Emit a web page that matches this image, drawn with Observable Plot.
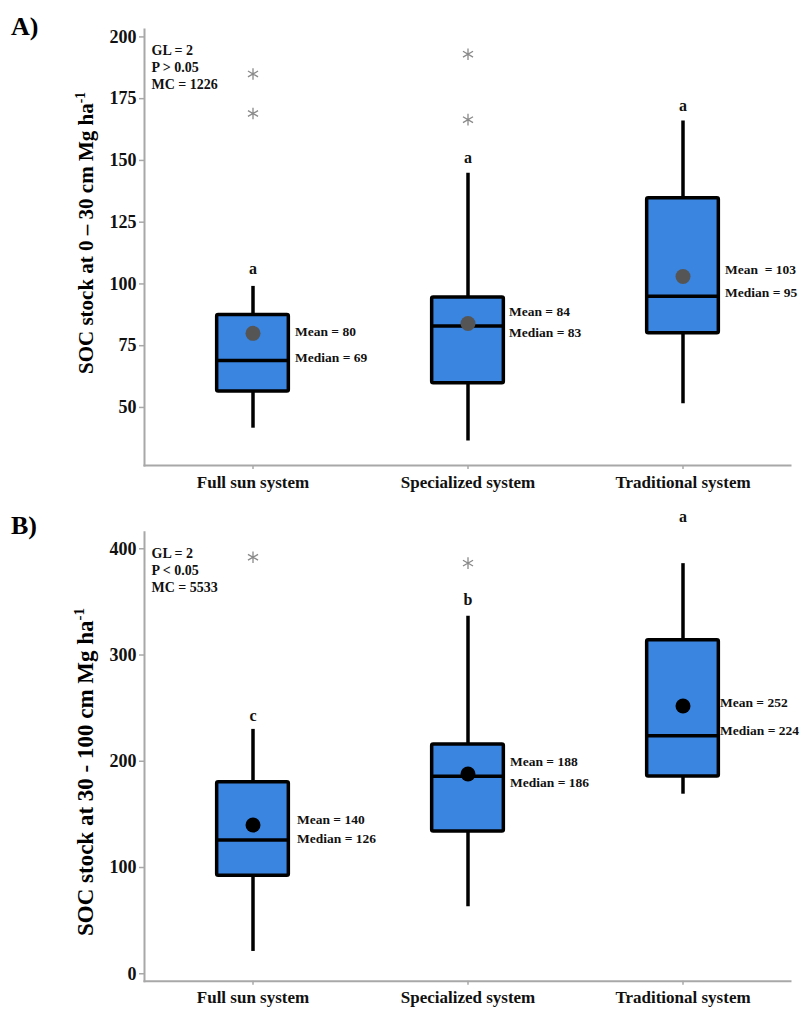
<!DOCTYPE html>
<html>
<head>
<meta charset="utf-8">
<script src="https://cdn.jsdelivr.net/npm/d3@7"></script>
<script src="https://cdn.jsdelivr.net/npm/@observablehq/plot@0.6"></script>
<style>
  html, body { margin: 0; padding: 0; background: #fff; }
  #chart svg { display: block; }
</style>
</head>
<body>
<div id="chart"></div>
<script>
// ---------- data ----------
const categories = ["Full sun system", "Specialized system", "Traditional system"];

// Panel A: SOC stock 0 – 30 cm
const aQ1 = [56.5, 59.8, 80];
const aQ3 = [87.4, 94.5, 134.7];
const aMedian = [69, 83, 95];
const aMean = [80, 84, 103];
const aWhiskerLow = [41.6, 36.4, 51.5];
const aWhiskerHigh = [99, 144.8, 166];
const aOutlierCat = ["Full sun system", "Full sun system", "Specialized system", "Specialized system"];
const aOutlierValue = [185, 169, 193, 166.5];
const aLetters = ["a", "a", "a"];
const aLetterAt = [106, 151, 172];
const aMeanText = ["Mean = 80", "Mean = 84", "Mean \u00a0= 103"];
const aMedianText = ["Median = 69", "Median = 83", "Median = 95"];
const aMeanTextAt = [80.6, 88.8, 105.7];
const aMedianTextAt = [70.2, 80.3, 96.4];
const aStats = "GL = 2\nP > 0.05\nMC = 1226";
const aTicks = [50, 75, 100, 125, 150, 175, 200];

// Panel B: SOC stock 30 - 100 cm
const bQ1 = [92.2, 133.8, 185.6];
const bQ3 = [180.3, 215.7, 314];
const bMedian = [126, 186, 224];
const bMean = [140, 188, 252];
const bWhiskerLow = [21, 63, 169];
const bWhiskerHigh = [230, 336.5, 386];
const bOutlierCat = ["Full sun system", "Specialized system"];
const bOutlierValue = [392, 386.5];
const bLetters = ["c", "b", "a"];
const bLetterAt = [243, 352, 430];
const bMeanText = ["Mean = 140", "Mean = 188", "Mean = 252"];
const bMedianText = ["Median = 126", "Median = 186", "Median = 224"];
const bMeanTextAt = [145.5, 199.2, 255.6];
const bMedianTextAt = [126.7, 180.3, 229];
const bStats = "GL = 2\nP < 0.05\nMC = 5533";
const bTicks = [0, 100, 200, 300, 400];

// ---------- drawing ----------
const FONT = "'Liberation Serif', 'Times New Roman', serif";
const BOX_FILL = "#3a85e0";
const AXIS_GREY = "#a8a8a8";

function panel(cfg) {
  const idx = d3.range(categories.length);
  const oIdx = d3.range(cfg.outCat.length);
  const W = 803, mL = 144, mR = 13;
  const bw = (W - mL - mR) / categories.length;
  const inset = (bw - 72) / 2;
  const cat = i => categories[i];
  const labelMarks = idx.flatMap(i => [
    Plot.text([i], { x: cat, y: j => cfg.meanAt[j], text: j => cfg.meanText[j], textAnchor: "start", dx: cfg.labelDx[i], fontSize: 13.5, fontWeight: "bold", fill: "#111" }),
    Plot.text([i], { x: cat, y: j => cfg.medianAt[j], text: j => cfg.medianText[j], textAnchor: "start", dx: cfg.labelDx[i], fontSize: 13.5, fontWeight: "bold", fill: "#111" })
  ]);
  const plot = Plot.plot({
    width: W,
    height: cfg.height,
    marginLeft: mL,
    marginRight: mR,
    marginTop: cfg.mTop,
    marginBottom: cfg.mBottom,
    style: { fontFamily: FONT, fontWeight: "bold", color: "#111", background: "#fff", overflow: "visible" },
    x: { type: "band", domain: categories, padding: 0, label: null },
    y: { domain: cfg.yDomain, label: null },
    marks: [
      Plot.axisY({ ticks: cfg.ticks, tickSize: 5, tickPadding: 3, stroke: AXIS_GREY, strokeWidth: 1.5, fontSize: 18, fill: "#111", label: null }),
      Plot.axisX({ tickSize: 4, tickPadding: 6, stroke: AXIS_GREY, strokeWidth: 1.5, fontSize: 17, fill: "#111", label: null }),
      Plot.frame({ anchor: "left", stroke: AXIS_GREY, strokeWidth: 2 }),
      Plot.frame({ anchor: "bottom", stroke: AXIS_GREY, strokeWidth: 2 }),
      // whiskers
      Plot.ruleX(idx, { x: cat, y1: i => cfg.low[i], y2: i => cfg.high[i], stroke: "#000", strokeWidth: 3.5 }),
      // boxes
      Plot.barY(idx, { x: cat, y1: i => cfg.q1[i], y2: i => cfg.q3[i], fill: BOX_FILL, stroke: "#000", strokeWidth: 3.5, insetLeft: inset, insetRight: inset, rx: 1.5 }),
      // median
      Plot.tickY(idx, { x: cat, y: i => cfg.median[i], stroke: "#000", strokeWidth: 3.5, insetLeft: inset, insetRight: inset }),
      // mean
      Plot.dot(idx, { x: cat, y: i => cfg.mean[i], r: 7.5, fill: cfg.meanColor, stroke: "none" }),
      // outliers
      Plot.dot(oIdx, { x: i => cfg.outCat[i], y: i => cfg.outVal[i], symbol: "asterisk", r: 5.5, stroke: "#8a8a8a", strokeWidth: 1.3 }),
      // letters
      Plot.text(idx, { x: cat, y: i => cfg.letterAt[i], text: i => cfg.letters[i], fontSize: 16, fontWeight: "bold", fill: "#111" }),
      // mean / median labels
      ...labelMarks,
      // stats
      Plot.text([cfg.stats], { frameAnchor: "top-left", dx: 7, dy: 14, lineHeight: 1.2, fontSize: 14, fontWeight: "bold", fill: "#111" })
    ]
  });
  const svg = d3.select(plot);
  // panel letter
  svg.append("text")
    .attr("x", 11).attr("y", cfg.panelY)
    .attr("text-anchor", "start")
    .attr("font-family", FONT).attr("font-weight", "bold").attr("font-size", 26)
    .attr("fill", "#000")
    .text(cfg.panel);
  // y-axis title with superscript
  const t = svg.append("text")
    .attr("transform", `translate(93,${cfg.titleY}) rotate(-90)`)
    .attr("text-anchor", "middle")
    .attr("font-family", FONT).attr("font-weight", "bold").attr("font-size", cfg.titleSize)
    .attr("fill", "#000");
  t.append("tspan").text(cfg.title);
  t.append("tspan").attr("font-size", cfg.titleSize * 0.65).attr("dy", -cfg.titleSize * 0.4).text("-1");
  return plot;
}

const root = document.getElementById("chart");
root.appendChild(panel({
  height: 500, mTop: 29, mBottom: 35, yDomain: [26.5, 203], ticks: aTicks,
  q1: aQ1, q3: aQ3, median: aMedian, mean: aMean, low: aWhiskerLow, high: aWhiskerHigh,
  outCat: aOutlierCat, outVal: aOutlierValue, letters: aLetters, letterAt: aLetterAt,
  meanText: aMeanText, medianText: aMedianText, meanAt: aMeanTextAt, medianAt: aMedianTextAt,
  labelDx: [42, 41, 42],
  stats: aStats, meanColor: "#555555", panel: "A)", panelY: 35,
  title: "SOC stock at 0 \u2013 30 cm Mg ha", titleY: 233, titleSize: 21
}));
root.appendChild(panel({
  height: 509, mTop: 31.7, mBottom: 28.3, yDomain: [-7, 415.6], ticks: bTicks,
  q1: bQ1, q3: bQ3, median: bMedian, mean: bMean, low: bWhiskerLow, high: bWhiskerHigh,
  outCat: bOutlierCat, outVal: bOutlierValue, letters: bLetters, letterAt: bLetterAt,
  meanText: bMeanText, medianText: bMedianText, meanAt: bMeanTextAt, medianAt: bMedianTextAt,
  labelDx: [44, 42, 37],
  stats: bStats, meanColor: "#000000", panel: "B)", panelY: 34,
  title: "SOC stock at 30 - 100 cm Mg ha", titleY: 272, titleSize: 23
}));
</script>
</body>
</html>
